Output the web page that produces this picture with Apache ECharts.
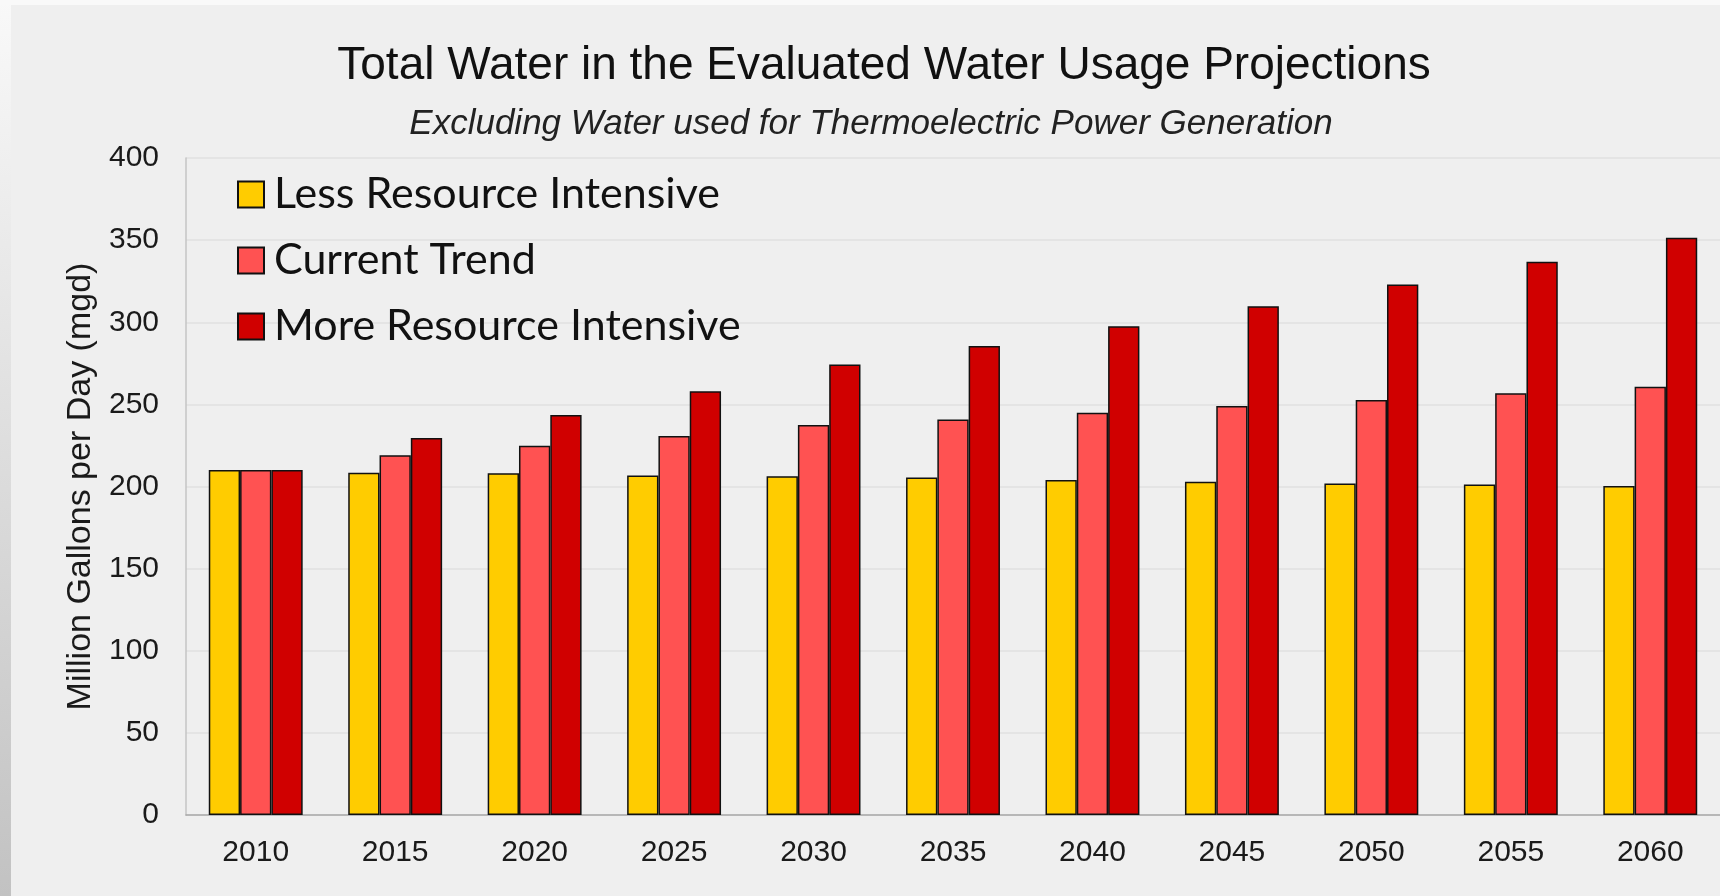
<!DOCTYPE html>
<html>
<head>
<meta charset="utf-8">
<title>Total Water in the Evaluated Water Usage Projections</title>
<script src="https://cdn.jsdelivr.net/npm/echarts@6/dist/echarts.min.js"></script>
<style>
  html, body { margin: 0; padding: 0; background: #efefef; }
  #chart { width: 1720px; height: 896px; }
</style>
</head>
<body>
<div id="chart"></div>
<script>
// Projection years (category axis)
const years = ['2010', '2015', '2020', '2025', '2030', '2035', '2040', '2045', '2050', '2055', '2060'];

// Million gallons per day for each scenario
const lessIntensive = [210, 208.3, 208, 206.7, 206.3, 205.5, 203.9, 202.9, 201.9, 201.2, 200.3];
const currentTrend  = [210, 219, 224.8, 230.7, 237.4, 240.8, 244.9, 249, 252.6, 256.7, 260.7];
const moreIntensive = [210, 229.6, 243.5, 258, 274.3, 285.5, 297.6, 309.8, 323, 336.8, 351.4];

const seriesNames = ['Less Resource Intensive', 'Current Trend', 'More Resource Intensive'];
const seriesColors = ['#FFCC00', '#FF5252', '#D00000'];
const seriesData = [lessIntensive, currentTrend, moreIntensive];

// Value axis range and step
const yMin = 0, yMax = 400, yStep = 50;

const chart = echarts.init(document.getElementById('chart'), null, { renderer: 'canvas' });

const sansSerif = '"Liberation Sans", Arial, sans-serif';

chart.setOption({
  backgroundColor: '#efefef',
  animation: false,
  title: [
    {
      text: 'Total Water in the Evaluated Water Usage Projections',
      left: 879, top: 38, textAlign: 'center',
      textStyle: { fontFamily: sansSerif, fontSize: 46, fontWeight: 'normal', color: '#111' }
    },
    {
      text: 'Excluding Water used for Thermoelectric Power Generation',
      left: 866, top: 102, textAlign: 'center',
      textStyle: { fontFamily: sansSerif, fontSize: 35, fontStyle: 'italic', fontWeight: 'normal', color: '#222' }
    }
  ],
  legend: {
    orient: 'vertical',
    left: 232, top: 168,
    itemWidth: 26, itemHeight: 26, itemGap: 23,
    icon: 'rect',
    data: seriesNames,
    textStyle: {
      fontFamily: 'Lato, "Open Sans", sans-serif',
      fontSize: 43, color: '#111',
      padding: [0, 0, 0, 5]
    }
  },
  graphic: [
    {
      // shaded left border strip
      type: 'rect', left: 0, top: 0, z: -1,
      shape: { width: 11, height: 896 },
      style: {
        fill: new echarts.graphic.LinearGradient(0, 0, 0, 1, [
          { offset: 0, color: '#f9f9f9' },
          { offset: 1, color: '#c2c2c2' }
        ])
      }
    },
    {
      // pale top border strip
      type: 'rect', left: 0, top: 0, z: -1,
      shape: { width: 1720, height: 5 },
      style: { fill: '#f9f9f9' }
    }
  ],
  grid: { left: 186, right: 0, top: 158, bottom: 81, containLabel: false },
  xAxis: {
    type: 'category',
    data: years,
    axisLine: { show: true, lineStyle: { color: '#a8a8a8', width: 1.5 } },
    axisTick: { show: false },
    axisLabel: { margin: 23, fontFamily: sansSerif, fontSize: 30, color: '#1a1a1a' }
  },
  yAxis: {
    type: 'value',
    min: yMin, max: yMax, interval: yStep,
    name: 'Million Gallons per Day (mgd)',
    nameLocation: 'middle',
    nameGap: 74,
    nameTextStyle: { fontFamily: sansSerif, fontSize: 34, color: '#1a1a1a' },
    axisLine: { show: true, lineStyle: { color: '#c4c4c4', width: 1.5 } },
    axisTick: { show: false },
    axisLabel: { margin: 27, fontFamily: sansSerif, fontSize: 30, color: '#1a1a1a' },
    splitLine: { show: true, lineStyle: { color: '#e0e0e0', width: 1.5 } }
  },
  series: seriesNames.map((name, i) => ({
    name: name,
    type: 'bar',
    data: seriesData[i],
    barWidth: 31.3,
    barGap: '0%',
    itemStyle: { color: seriesColors[i], borderColor: '#111', borderWidth: 1.5 }
  }))
});
</script>
</body>
</html>
